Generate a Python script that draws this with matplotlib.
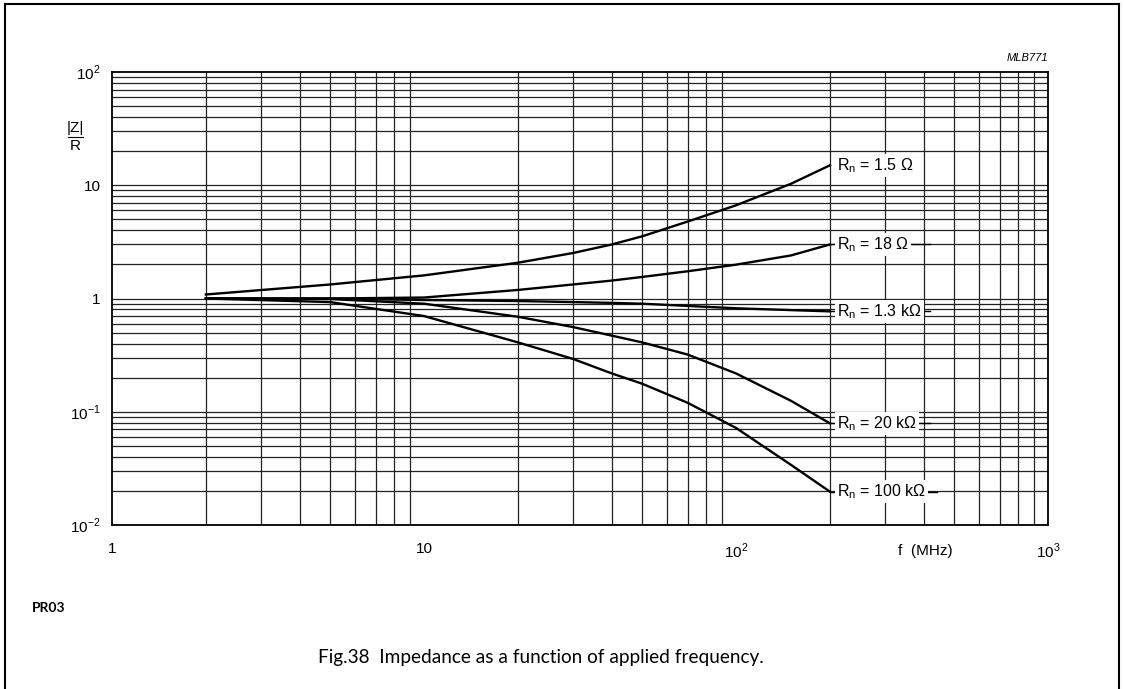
import matplotlib
matplotlib.use('Agg')
import matplotlib.pyplot as plt
from matplotlib.lines import Line2D
import numpy as np

plt.rcParams['font.family'] = ['Liberation Sans', 'DejaVu Sans']
plt.rcParams['mathtext.fontset'] = 'custom'
plt.rcParams['mathtext.rm'] = 'Liberation Sans'

# frequency (MHz) and |Z|/R for each Rn
freq = [2, 5, 10, 20, 30, 40, 50, 70, 100, 150, 200]
z_1r5 = [1.085, 1.33, 1.60, 2.07, 2.52, 3.0, 3.54, 4.78, 6.65, 10.3, 15.0]
z_18 = [1.0, 1.0, 1.02, 1.19, 1.33, 1.44, 1.55, 1.74, 1.99, 2.40, 3.0]
z_1k3 = [1.0, 1.0, 0.97, 0.95, 0.93, 0.915, 0.90, 0.86, 0.82, 0.79, 0.77]
z_20k = [1.0, 0.99, 0.90, 0.69, 0.56, 0.47, 0.41, 0.32, 0.218, 0.125, 0.079]
z_100k = [1.0, 0.93, 0.70, 0.41, 0.293, 0.218, 0.177, 0.12, 0.072, 0.034, 0.0197]

curves = [z_1r5, z_18, z_1k3, z_20k, z_100k]
labels = [r'R$_{\mathregular{n}}$ = 1.5 Ω', r'R$_{\mathregular{n}}$ = 18 Ω',
          r'R$_{\mathregular{n}}$ = 1.3 kΩ', r'R$_{\mathregular{n}}$ = 20 kΩ',
          r'R$_{\mathregular{n}}$ = 100 kΩ']
leader_end = [200, 420, 420, 420, 440]

x_ticks = [1, 10, 100, 1000]
x_ticklabels = ['1', '10', r'10$^{\mathregular{2}}$', r'10$^{\mathregular{3}}$']
y_ticks = [0.01, 0.1, 1, 10, 100]
y_ticklabels = [r'10$^{\mathregular{-2}}$', r'10$^{\mathregular{-1}}$', '1', '10',
                r'10$^{\mathregular{2}}$']

fig = plt.figure(figsize=(11.24, 6.89), dpi=100)
ax = fig.add_axes([0.0996, 0.238, 0.8328, 0.6575])
ax.set_xscale('log')
ax.set_yscale('log')
ax.set_xlim(1, 1000)
ax.set_ylim(0.01, 100)

# grid at every decade sub-division
for dec in [1, 10, 100]:
    for m in range(2, 10):
        ax.axvline(dec * m, color='#222222', lw=0.9, zorder=1)
for dec in [0.01, 0.1, 1, 10]:
    for m in range(1, 10):
        ax.axhline(dec * m, color='#222222', lw=0.9, zorder=1)

for z, lab, le in zip(curves, labels, leader_end):
    ax.plot(freq, z, color='black', lw=1.7, zorder=3)
    if le > 200:
        ax.plot([freq[-1], le], [z[-1], z[-1]], color='black', lw=1, zorder=2)
    ax.text(211, z[-1], lab, fontsize=11.5, va='center', ha='left', zorder=4,
            bbox=dict(facecolor='white', edgecolor='none', pad=1.5))

ax.set_xticks(x_ticks)
ax.set_xticklabels(x_ticklabels)
ax.set_yticks(y_ticks)
ax.set_yticklabels(y_ticklabels)
ax.minorticks_off()
ax.tick_params(length=0, labelsize=11, pad=8)
ax.tick_params(axis='x', pad=12)
for s in ax.spines.values():
    s.set_linewidth(1.3)

fig.text(75 / 1124, 1 - 128 / 689, '|Z|', fontsize=11, ha='center', va='center')
fig.add_artist(Line2D([68 / 1124, 83 / 1124], [1 - 137 / 689] * 2, color='black', lw=0.8))
fig.text(75 / 1124, 1 - 146 / 689, 'R', fontsize=11, ha='center', va='center')

fig.text(925 / 1124, 1 - 551 / 689, 'f  (MHz)', fontsize=11, ha='center', va='center')
fig.text(1048 / 1124, 1 - 58 / 689, 'MLB771', fontsize=8, style='italic', ha='right', va='center')
fig.text(32 / 1124, 1 - 608 / 689, 'PR03', fontsize=10, weight='bold', family='Lato',
         ha='left', va='center')
fig.text(318 / 1124, 1 - 657 / 689, 'Fig.38  Impedance as a function of applied frequency.',
         fontsize=13.7, family='Lato', ha='left', va='center')

# page frame
fig.add_artist(Line2D([5 / 1124, 5 / 1124], [0, 1 - 4 / 689], color='black', lw=1.5))
fig.add_artist(Line2D([5 / 1124, 1119 / 1124], [1 - 4 / 689] * 2, color='black', lw=1.5))
fig.add_artist(Line2D([1119 / 1124, 1119 / 1124], [0, 1 - 4 / 689], color='black', lw=1.5))

fig.savefig('out.png', dpi=100)
